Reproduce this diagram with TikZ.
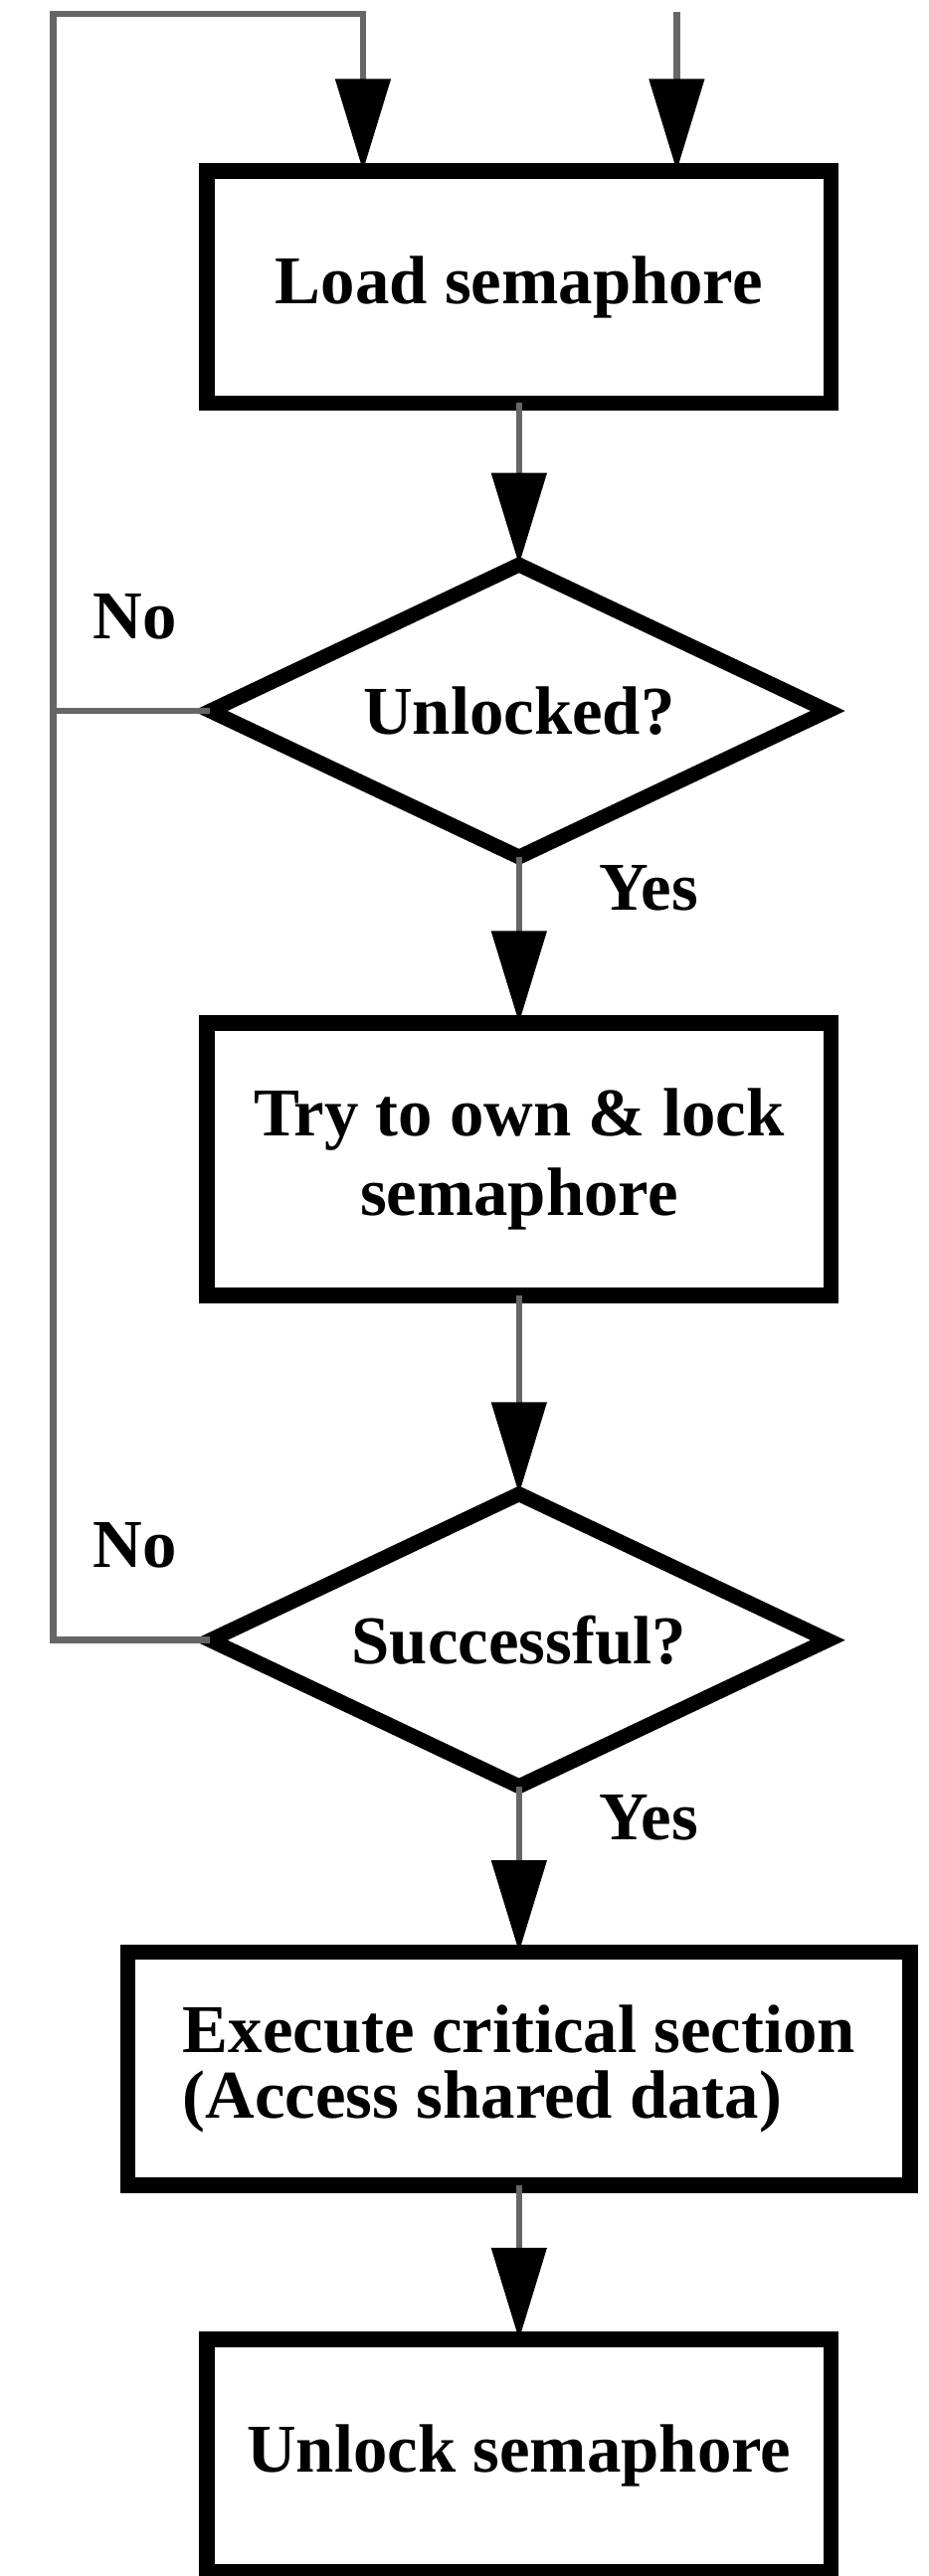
\documentclass[tikz,border=0pt]{standalone}
\usepackage{fontspec}
\setmainfont{Liberation Serif}
\usetikzlibrary{positioning,shapes.geometric,arrows.meta}

\begin{document}
\begin{tikzpicture}[
      every node/.style = {font={\bfseries\fontsize{23.7}{28}\selectfont}},
         procbox/.style = {draw, line width=0.19cm, outer sep=0pt, align=center,
                           minimum width=7.6cm, minimum height=2.83cm},
        decision/.style = {diamond, draw, line width=0.18cm, outer sep=0pt,
                           inner sep=0pt, aspect=2.12,
                           minimum width=7.52cm, minimum height=3.56cm},
            conn/.style = {draw=black!60, line width=0.08cm},
            flow/.style = {conn, -{Triangle[length=1.12cm,width=0.66cm,color=black]}},
                     ]
\useasboundingbox (0,0) rectangle (11.3,-31.38);

\node[procbox] (load) at (6.32,-3.495) {Load semaphore};
\node[decision, below=1.97cm of load] (unl) {Unlocked?};
\node[procbox, minimum height=3.32cm, below=2.02cm of unl,
      font={\bfseries\fontsize{23.7}{27.3}\selectfont}] (own) {Try to own \& lock\\semaphore};
\node[decision, below=2.42cm of own] (succ) {Successful?};
\node[procbox, minimum width=9.53cm, minimum height=2.84cm, align=left, below=2.02cm of succ,
      font={\bfseries\fontsize{23.7}{22.8}\selectfont}] (crit) {Execute critical section\\(Access shared data)};
\node[procbox, below=1.88cm of crit] (unlock) {Unlock semaphore};

% yes / no labels
\node (no1)  at ([xshift=-0.92cm,yshift=1.15cm]unl.west)   {No};
\node (yes1) at ([xshift=1.58cm,yshift=-0.38cm]unl.south)  {Yes};
\node (no2)  at ([xshift=-0.92cm,yshift=1.15cm]succ.west)  {No};
\node (yes2) at ([xshift=1.58cm,yshift=-0.38cm]succ.south) {Yes};

\coordinate (top)   at (0.65,-0.17);
\coordinate (entry) at (8.24,-0.14);

\draw[flow] (entry) -- (entry |- load.north);
\draw[flow] (load) -- (unl);
\draw[flow] (unl) -- (own);
\draw[flow] (own) -- (succ);
\draw[flow] (succ) -- (crit);
\draw[flow] (crit) -- (unlock);

% retry loop
\draw[conn] (unl.west) -- (unl.west -| top);
\draw[flow] (succ.west) -| (top) -| ([xshift=-1.9cm]load.north);
\end{tikzpicture}
\end{document}
